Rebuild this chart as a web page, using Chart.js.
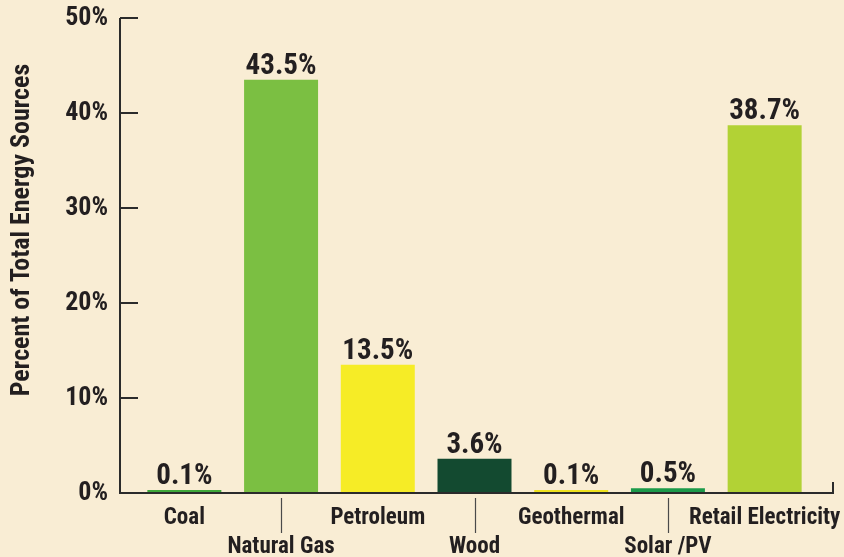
<!DOCTYPE html>
<html>
<head>
<meta charset="utf-8">
<script src="https://cdn.jsdelivr.net/npm/chart.js@4"></script>
<style>
  body { margin: 0; background: #f9edd4; }
</style>
</head>
<body>
<canvas id="chart1" width="844" height="557"></canvas>
<script>
const categories = ['Coal', 'Natural Gas', 'Petroleum', 'Wood', 'Geothermal', 'Solar /PV', 'Retail Electricity'];
const shares = [0.1, 43.5, 13.5, 3.6, 0.1, 0.5, 38.7];
const barColors = ['#3fa83a', '#7bbf42', '#f6ec26', '#134a30', '#efe21e', '#1b9a4a', '#b2d235'];
const yTicks = [0, 10, 20, 30, 40, 50];
const yTitle = 'Percent of Total Energy Sources';

const FONT = "'Roboto Condensed', 'Liberation Sans', sans-serif";
const INK = '#231f20';

// every other label drops to a second row, like the printed figure
const xLabels = categories.map((c, i) => i % 2 === 1 ? ['', c] : c);

const paper = {
    id: 'paper',
    beforeDraw(chart) {
        const c = chart.ctx;
        c.save();
        c.fillStyle = '#f9edd4';
        c.fillRect(0, 0, chart.width, chart.height);
        c.restore();
    },
    afterDatasetsDraw(chart) {
        const c = chart.ctx;
        const area = chart.chartArea;
        const x = chart.scales.x, y = chart.scales.y;
        const axisX = area.left - 16;
        const zeroY = y.getPixelForValue(0);
        c.save();
        c.strokeStyle = '#2b2b2b';
        c.lineWidth = 2;
        // axes
        c.beginPath();
        c.moveTo(axisX, y.getPixelForValue(50));
        c.lineTo(axisX, zeroY);
        c.lineTo(area.right + 20, zeroY);
        c.lineTo(area.right + 20, zeroY - 11);
        c.stroke();
        // y ticks
        yTicks.forEach(v => {
            if (v === 0) return;
            const py = y.getPixelForValue(v);
            c.beginPath();
            c.moveTo(axisX, py);
            c.lineTo(axisX + 18, py);
            c.stroke();
        });
        // leader lines for the lower row of labels
        c.lineWidth = 1.2;
        c.strokeStyle = '#4a4a4a';
        categories.forEach((cat, i) => {
            if (i % 2 !== 1) return;
            const px = Math.round(x.getPixelForValue(i)) + 0.5;
            c.beginPath();
            c.moveTo(px, zeroY + 5);
            c.lineTo(px, zeroY + 40);
            c.stroke();
        });
        // value labels
        c.fillStyle = INK;
        c.font = 'bold 29px ' + FONT;
        c.textAlign = 'center';
        c.textBaseline = 'alphabetic';
        chart.getDatasetMeta(0).data.forEach((bar, i) => {
            c.fillText(shares[i].toFixed(1) + '%', bar.x, bar.y - 6);
        });
        // axis title
        c.translate(22, 230);
        c.rotate(-Math.PI / 2);
        c.textBaseline = 'middle';
        c.font = 'bold 26px ' + FONT;
        c.fillText(yTitle, 0, 0);
        c.restore();
    }
};

const myChart = new Chart(document.getElementById('chart1'), {
    type: 'bar',
    data: {
        labels: xLabels,
        datasets: [{
            data: shares,
            backgroundColor: barColors,
            borderWidth: 0,
            minBarLength: 3
        }]
    },
    options: {
        responsive: false,
        animation: false,
        devicePixelRatio: 1,
        layout: {
            padding: { top: 18, right: 31, left: 0, bottom: 0 }
        },
        categoryPercentage: 1,
        barPercentage: 0.765,
        scales: {
            y: {
                min: 0,
                max: 50,
                afterFit(scale) {
                    scale.width = 136;
                    scale.paddingTop = 0;
                    scale.paddingBottom = 0;
                },
                afterBuildTicks(scale) { scale.ticks = yTicks.map(v => ({ value: v })); },
                grid: { display: false, drawTicks: false },
                border: { display: false },
                ticks: {
                    padding: 28,
                    color: INK,
                    font: { family: FONT, size: 26, weight: 'bold' },
                    callback: v => v + '%'
                }
            },
            x: {
                afterFit(scale) {
                    scale.height = 64;
                    scale.paddingLeft = 0;
                    scale.paddingRight = 0;
                },
                grid: { display: false, drawTicks: false },
                border: { display: false },
                ticks: {
                    autoSkip: false,
                    maxRotation: 0,
                    padding: 11,
                    color: INK,
                    font: { family: FONT, size: 23, weight: 'bold', lineHeight: 1.26 }
                }
            }
        },
        plugins: {
            legend: { display: false },
            tooltip: { enabled: false }
        }
    },
    plugins: [paper]
});
</script>
</body>
</html>
